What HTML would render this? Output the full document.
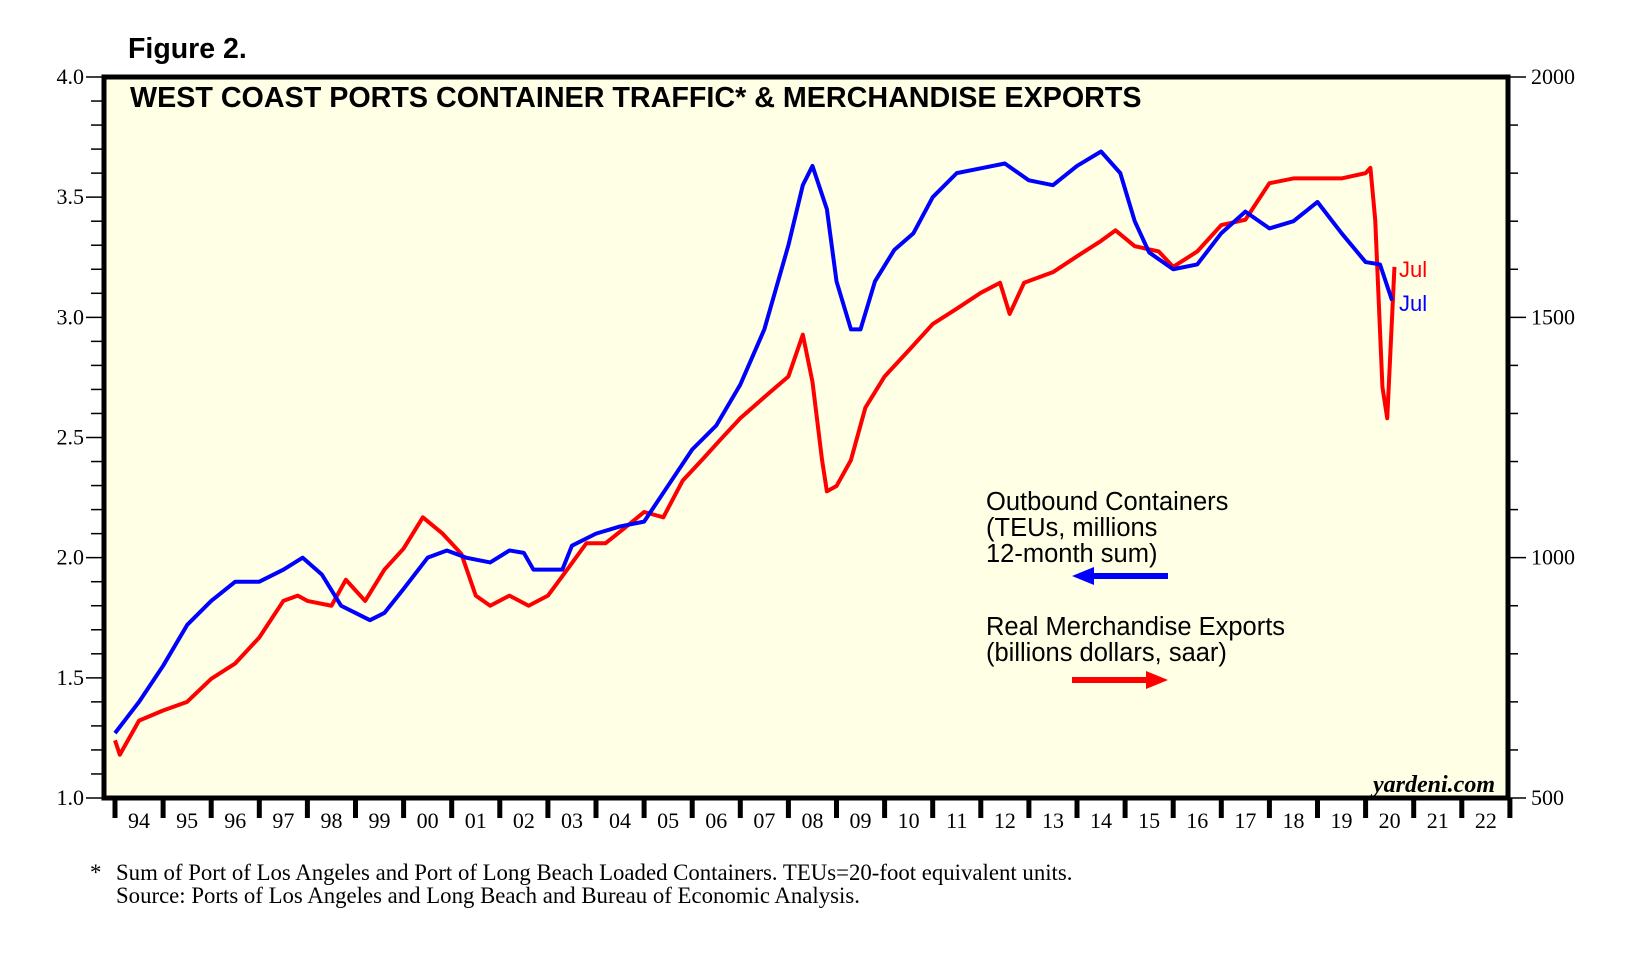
<!DOCTYPE html>
<html><head><meta charset="utf-8"><style>
body{margin:0;background:#fff}
svg{display:block;font-family:"Liberation Serif",serif}
</style></head><body>
<svg width="1639" height="964" viewBox="0 0 1639 964" id="c">
<text x="128" y="58" font-family="Liberation Sans" font-weight="bold" font-size="28.5">Figure 2.</text>
<rect x="104" y="77" width="1404" height="721" fill="#ffffe6"/>
<text x="130" y="107" font-family="Liberation Sans" font-weight="bold" font-size="28.7">WEST COAST PORTS CONTAINER TRAFFIC* &amp; MERCHANDISE EXPORTS</text>
<g id="axes"></g>
<g id="series"></g>
<rect x="104" y="77" width="1404" height="721" fill="none" stroke="#000" stroke-width="5"/>
<text x="1495" y="792" text-anchor="end" font-style="italic" font-weight="bold" font-size="24">yardeni.com</text>
<text x="986" y="510" font-family="Liberation Sans" font-size="25.5">Outbound Containers</text>
<text x="986" y="536" font-family="Liberation Sans" font-size="25.5">(TEUs, millions</text>
<text x="986" y="562" font-family="Liberation Sans" font-size="25.5">12-month sum)</text>
<g><line x1="1090" y1="576" x2="1168" y2="576" stroke="#0000ff" stroke-width="6"/><polygon points="1072,576 1094,567 1094,585" fill="#0000ff"/></g>
<text x="986" y="635" font-family="Liberation Sans" font-size="25.5">Real Merchandise Exports</text>
<text x="986" y="661" font-family="Liberation Sans" font-size="25.5">(billions dollars, saar)</text>
<g><line x1="1072" y1="680" x2="1150" y2="680" stroke="#ff0000" stroke-width="6"/><polygon points="1168,680 1146,671 1146,689" fill="#ff0000"/></g>
<text x="1399" y="277" font-family="Liberation Sans" font-size="22" fill="#ff0000">Jul</text>
<text x="1399" y="311" font-family="Liberation Sans" font-size="22" fill="#0000ff">Jul</text>
<text x="90" y="880" font-size="22.8">*</text>
<text x="116" y="880" font-size="22.8">Sum of Port of Los Angeles and Port of Long Beach Loaded Containers. TEUs=20-foot equivalent units.</text>
<text x="116" y="903" font-size="22.8">Source: Ports of Los Angeles and Long Beach and Bureau of Economic Analysis.</text>
</svg>
<script>
const yearTicks=['94','95','96','97','98','99','00','01','02','03','04','05','06','07','08','09','10','11','12','13','14','15','16','17','18','19','20','21','22'];
const leftTicks=[1.0,1.5,2.0,2.5,3.0,3.5,4.0];
const rightTicks=[500,1000,1500,2000];
const blueT=[1994.0,1994.5,1995.0,1995.5,1996.0,1996.5,1997.0,1997.5,1997.9,1998.3,1998.7,1999.0,1999.3,1999.6,2000.0,2000.5,2000.9,2001.3,2001.8,2002.2,2002.5,2002.7,2003.0,2003.3,2003.5,2004.0,2004.5,2005.0,2005.5,2006.0,2006.5,2007.0,2007.5,2008.0,2008.3,2008.5,2008.8,2009.0,2009.3,2009.5,2009.8,2010.2,2010.6,2011.0,2011.5,2012.0,2012.5,2013.0,2013.5,2014.0,2014.5,2014.9,2015.2,2015.5,2016.0,2016.5,2017.0,2017.5,2018.0,2018.5,2019.0,2019.5,2020.0,2020.3,2020.55];
const blueV=[1.27,1.40,1.55,1.72,1.82,1.90,1.90,1.95,2.00,1.93,1.80,1.77,1.74,1.77,1.87,2.00,2.03,2.00,1.98,2.03,2.02,1.95,1.95,1.95,2.05,2.10,2.13,2.15,2.30,2.45,2.55,2.72,2.95,3.30,3.55,3.63,3.45,3.15,2.95,2.95,3.15,3.28,3.35,3.50,3.60,3.62,3.64,3.57,3.55,3.63,3.69,3.60,3.40,3.27,3.20,3.22,3.35,3.44,3.37,3.40,3.48,3.35,3.23,3.22,3.07];
const redT=[1994.0,1994.1,1994.5,1995.0,1995.5,1996.0,1996.5,1997.0,1997.5,1997.8,1998.0,1998.5,1998.8,1999.2,1999.6,2000.0,2000.4,2000.8,2001.2,2001.5,2001.8,2002.2,2002.6,2003.0,2003.4,2003.8,2004.2,2004.6,2005.0,2005.4,2005.8,2006.2,2006.6,2007.0,2007.5,2008.0,2008.3,2008.5,2008.7,2008.8,2009.0,2009.3,2009.6,2010.0,2010.5,2011.0,2011.5,2012.0,2012.4,2012.6,2012.9,2013.5,2014.0,2014.5,2014.8,2015.2,2015.7,2016.0,2016.5,2017.0,2017.5,2018.0,2018.5,2019.0,2019.5,2020.0,2020.1,2020.2,2020.35,2020.45,2020.6];
const redV=[620,590,661,682,700,748,780,834,910,921,910,900,954,910,975,1019,1084,1051,1008,921,900,921,900,921,975,1030,1030,1062,1095,1084,1160,1203,1247,1290,1334,1377,1464,1366,1203,1138,1149,1203,1312,1377,1431,1486,1518,1551,1572,1507,1572,1594,1627,1659,1681,1648,1637,1605,1637,1692,1703,1779,1789,1789,1789,1800,1811,1703,1355,1290,1605];
const X0=115,XW=48.1,TOP=77,BOT=798;
const x=t=>X0+(t-1994)*XW;
const yL=v=>BOT-(v-1)/3*(BOT-TOP);
const yR=v=>BOT-(v-500)/1500*(BOT-TOP);
const NS='http://www.w3.org/2000/svg';
function mk(tag,attrs,parent){const e=document.createElementNS(NS,tag);for(const k in attrs)e.setAttribute(k,attrs[k]);parent.appendChild(e);return e;}
const ax=document.getElementById('axes'),se=document.getElementById('series');
for(let v=1;v<=4.001;v+=0.1){const maj=Math.abs(v*2-Math.round(v*2))<1e-6;
 const l=mk('line',{x1:maj?86:91,x2:104,y1:yL(v),y2:yL(v),stroke:'#000','stroke-width':1.5},ax);
 
 }
leftTicks.forEach(v=>{const t=mk('text',{x:84,y:yL(v)+7,'text-anchor':'end','font-size':22},ax);t.textContent=v.toFixed(1);
 
 });
for(let v=500;v<=2000;v+=100){const maj=v%500===0;
 const l=mk('line',{x1:1508,x2:maj?1526:1518,y1:yR(v),y2:yR(v),stroke:'#000','stroke-width':1.5},ax);
 
 }
rightTicks.forEach(v=>{const t=mk('text',{x:1531,y:yR(v)+7,'font-size':22},ax);t.textContent=v;
 
 });
for(let i=0;i<=yearTicks.length;i++){const l=mk('line',{x1:x(1994+i),x2:x(1994+i),y1:798,y2:818,stroke:'#000','stroke-width':5},ax);
 
 }
yearTicks.forEach((s,i)=>{const t=mk('text',{x:x(1994.5+i),y:828,'text-anchor':'middle','font-size':22},ax);t.textContent=s;
 
 });
const rp=mk('polyline',{points:redT.map((t,i)=>x(t)+','+yR(redV[i])).join(' '),fill:'none',stroke:'#ff0000','stroke-width':4,'stroke-linejoin':'round'},se);


const bp=mk('polyline',{points:blueT.map((t,i)=>x(t)+','+yL(blueV[i])).join(' '),fill:'none',stroke:'#0000ff','stroke-width':4,'stroke-linejoin':'round'},se);


</script>
</body></html>
